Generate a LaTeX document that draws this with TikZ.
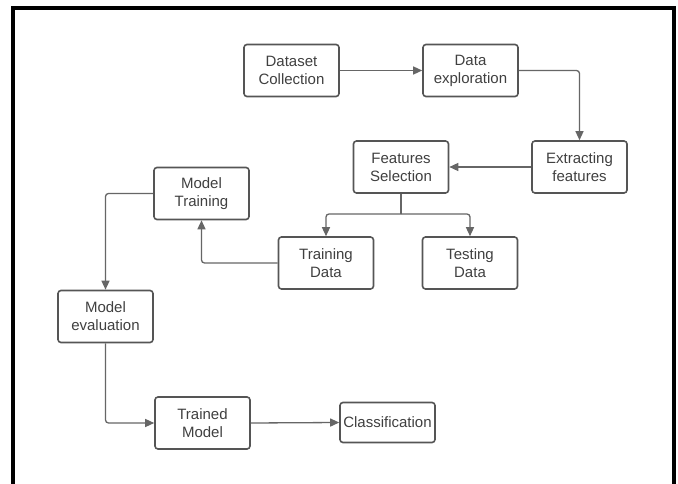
\documentclass[tikz,border=0pt]{standalone}
\usepackage{fontspec}
\setmainfont{Liberation Sans}
\usetikzlibrary{arrows.meta}
\definecolor{boxline}{HTML}{555555}
\definecolor{connline}{HTML}{666666}
\definecolor{txt}{HTML}{404040}
\begin{document}
\begin{tikzpicture}[x=1pt,y=-1pt,
  stepbox/.style={draw=boxline, line width=1.6pt, rounded corners=3pt, fill=white,
    minimum width=95pt, minimum height=52pt, align=center, inner sep=1pt,
    text=txt, font=\fontsize{15}{18}\selectfont},
  conn/.style={draw=connline, line width=1.3pt, rounded corners=3pt,
    -{Triangle[length=9pt,width=8pt]}},
  plainconn/.style={draw=connline, line width=1.3pt, rounded corners=3pt}]
\useasboundingbox (0,0) rectangle (678,484);
\fill[white] (0,0) rectangle (678,484);
\draw[black, line width=4pt] (13,490) -- (13,8) -- (673.5,8) -- (673.5,490);

\node[stepbox] (ds) at (291.5,70.5) {Dataset\\Collection};
\node[stepbox] (de) at (470.5,70.5) {Data\\exploration};
\node[stepbox] (ef) at (579.5,167) {Extracting\\features};
\node[stepbox] (fs) at (401,167) {Features\\Selection};
\node[stepbox] (tr) at (326,263) {Training\\Data};
\node[stepbox] (te) at (470,263) {Testing\\Data};
\node[stepbox] (mt) at (201.5,193.5) {Model\\Training};
\node[stepbox] (me) at (105.5,316.5) {Model\\evaluation};
\node[stepbox] (tm) at (202.5,423) {Trained\\Model};
\node[stepbox, minimum height=40pt] (cl) at (387.5,422.5) {Classification};

\coordinate (br) at (401,214);

\draw[conn] (ds.east) -- (de.west);
\draw[conn] (de.east) -| (ef.north);
\draw[conn] (ef.west) -- (fs.east);
\draw[plainconn] (fs.south) -- (br);
\draw[conn] (br) -| (tr.north);
\draw[conn] (br) -| (te.north);
\draw[conn] (tr.west) -| (mt.south);
\draw[conn] (mt.west) -| (me.north);
\draw[conn] (me.south) |- (tm.west);
\draw[conn] (tm.east) -- (cl.west);
\end{tikzpicture}
\end{document}
